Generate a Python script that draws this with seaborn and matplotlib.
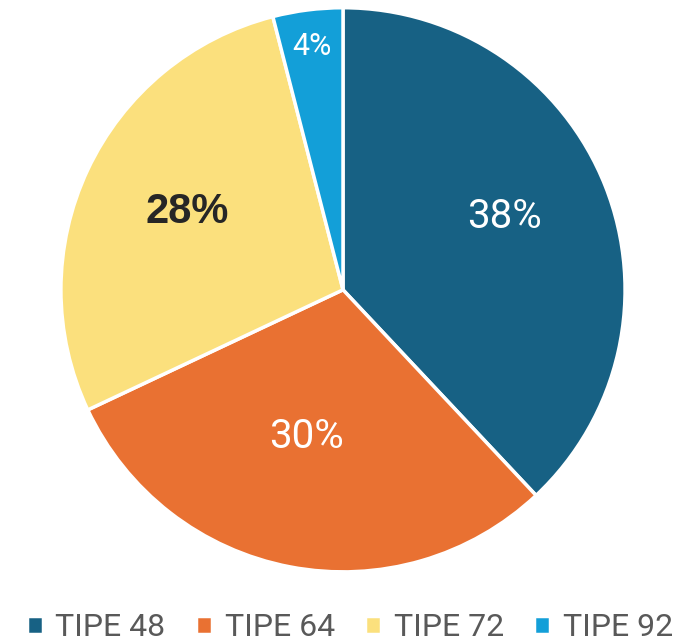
import matplotlib
matplotlib.use("Agg")
import matplotlib.pyplot as plt
import seaborn as sns

# Données
categories = ["TIPE 48", "TIPE 64", "TIPE 72", "TIPE 92"]
valeurs = [38, 30, 28, 4]
couleurs = ["#176184", "#E97132", "#FBE07D", "#139FD8"]

sns.set_theme(style="white")
plt.rcParams["font.family"] = ["Roboto", "DejaVu Sans"]

fig = plt.figure(figsize=(7, 6.44), dpi=100)
ax = fig.add_axes([0.087, 0.112, 0.806, 0.876])

wedges, textes = ax.pie(
    valeurs, colors=couleurs, startangle=90, counterclock=False,
    labels=[f"{v}%" for v in valeurs], labeldistance=0.62,
    wedgeprops=dict(edgecolor="white", linewidth=2.5),
    textprops=dict(fontsize=29, color="white"),
)
ax.set_xlim(-1, 1)
ax.set_ylim(-1, 1)
ax.set_aspect("equal")

# placement des étiquettes (ajustement type "meilleur ajustement")
positions = [(0.571, 0.259), (-0.128, -0.521), (-0.553, 0.277), (-0.110, 0.863)]
for t, p in zip(textes, positions):
    t.set_ha("center")
    t.set_va("center")
    t.set_position(p)
textes[2].set_color("#262626")
textes[2].set_fontweight("bold")
textes[2].set_family(["Liberation Sans", "DejaVu Sans"])
textes[2].set_fontsize(30)
textes[3].set_fontsize(22)

fig.legend(wedges, categories, loc="center", bbox_to_anchor=(0.5, 0.025),
           ncol=4, frameon=False, handlelength=0.5, handleheight=0.5,
           handletextpad=0.4, columnspacing=0.95, labelcolor="#595959",
           prop=dict(family=["Roboto", "DejaVu Sans"], size=23))

fig.savefig("out.png", dpi=100)
